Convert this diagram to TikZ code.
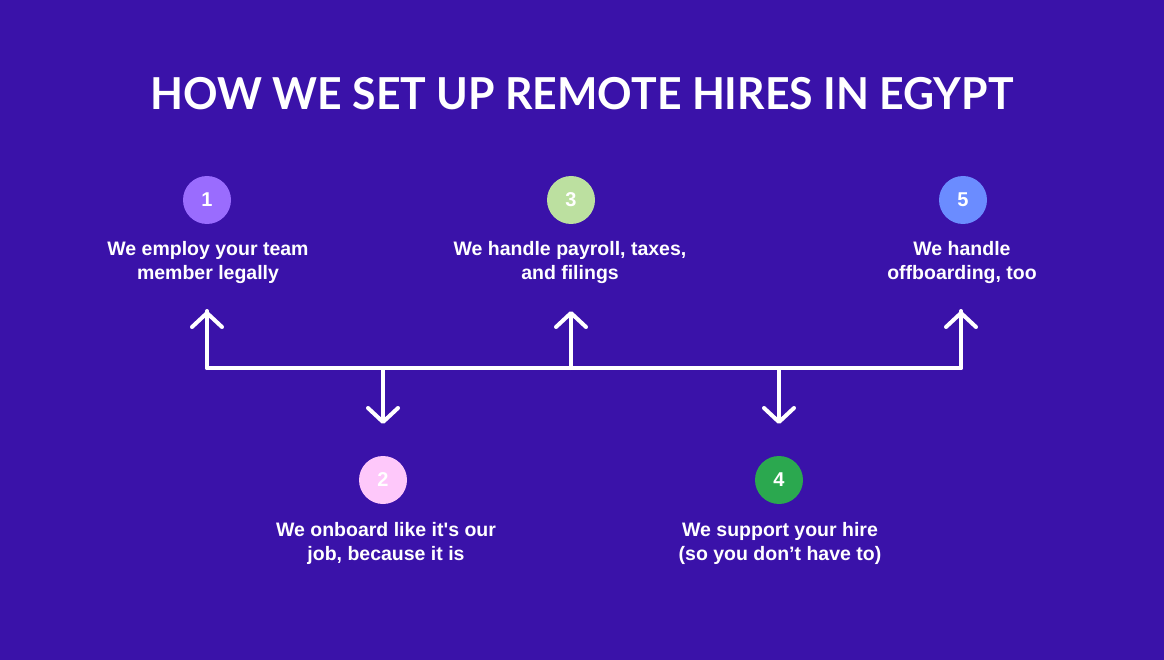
\documentclass[tikz,border=0pt]{standalone}
\usepackage{fontspec}
\setmainfont{Lato}
\newfontfamily\labelfont{Liberation Sans}
\usetikzlibrary{arrows.meta}
\definecolor{bg}{HTML}{3A12A9}
\definecolor{cone}{HTML}{9A6CFE}
\definecolor{ctwo}{HTML}{FEC8FA}
\definecolor{cthree}{HTML}{BCE0A0}
\definecolor{cfour}{HTML}{2BA84F}
\definecolor{cfive}{HTML}{6B8CFF}
\begin{document}
\begin{tikzpicture}[x=1pt,y=-1pt,
  badge/.style={circle,minimum size=48pt,inner sep=0pt,text=white,font=\labelfont\fontsize{20}{20}\selectfont\bfseries},
  label/.style={align=center,text=white,font=\labelfont\fontsize{19.5}{24}\selectfont\bfseries,inner sep=0pt},
  conn/.style={draw=white,line width=4pt,line cap=round,line join=round},
  tip/.style={-{Straight Barb[length=14pt,width=30pt,round]}}]
\fill[bg] (0,0) rectangle (1164,660);
\useasboundingbox (0,0) rectangle (1164,660);
\node[text=white,font=\fontsize{44}{44}\selectfont\bfseries,inner sep=0pt] (title) at (582,94) {\scalebox{0.972}[1]{HOW WE SET UP REMOTE HIRES IN EGYPT}};
% badges
\node[badge,fill=cone] (b1) at (207,200) {1};
\node[badge,fill=cthree] (b3) at (571,200) {3};
\node[badge,fill=cfive] (b5) at (963,200) {5};
\node[badge,fill=ctwo] (b2) at (383,480) {2};
\node[badge,fill=cfour] (b4) at (779,480) {4};
% labels
\node[label] (t1) at (208,263) {We employ your team\\member legally};
\node[label] (t3) at (570,263) {We handle payroll, taxes,\\and filings};
\node[label] (t5) at (962,263) {We handle\\offboarding, too};
\node[label] (t2) at (386,543) {We onboard like it\textquotesingle s our\\job, because it is};
\node[label] (t4) at (780,543) {We support your hire\\(so you don’t have to)};
% connector geometry
\coordinate (l) at (207,368);
\coordinate (r) at (961,368);
\coordinate (m3) at (571,368);
\coordinate (m2) at (383,368);
\coordinate (m4) at (779,368);
\coordinate (u1) at (207,311);
\coordinate (u3) at (571,311);
\coordinate (u5) at (961,311);
\coordinate (d2) at (383,424);
\coordinate (d4) at (779,424);
\draw[conn] (u1) -- (l) -- (r) -- (u5);
\draw[conn,tip] (l) -- (u1);
\draw[conn,tip] (r) -- (u5);
\draw[conn,tip] (m3) -- (u3);
\draw[conn,tip] (m2) -- (d2);
\draw[conn,tip] (m4) -- (d4);
\end{tikzpicture}
\end{document}
